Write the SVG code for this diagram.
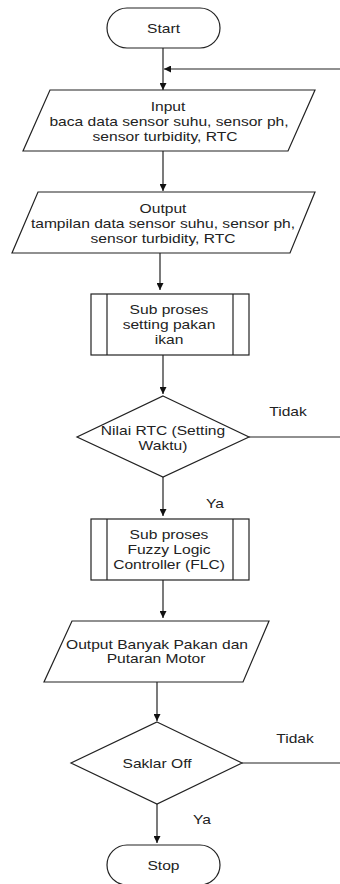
<svg xmlns="http://www.w3.org/2000/svg" width="340" height="884" viewBox="0 0 340 884">
<defs>
<style>
.s{fill:#fff;stroke:#222;stroke-width:1.2}
.c{fill:none;stroke:#222;stroke-width:1.2}
.t{font-family:"Liberation Sans",Arial,sans-serif;font-size:13px;fill:#222;text-anchor:middle}
</style>
<marker id="ah" viewBox="0 0 10 10" refX="10" refY="5" markerWidth="7" markerHeight="7" orient="auto" markerUnits="userSpaceOnUse">
<path d="M0,0 L10,5 L0,10 Z" fill="#111"/>
</marker>
</defs>
<rect width="340" height="884" fill="#fff"/>
<g id="connectors">
<line class="c" x1="163" y1="48" x2="163" y2="90" marker-end="url(#ah)"/>
<line class="c" x1="340" y1="69" x2="164" y2="69" marker-end="url(#ah)"/>
<line class="c" x1="163" y1="151" x2="163" y2="191" marker-end="url(#ah)"/>
<line class="c" x1="160" y1="253" x2="160" y2="290" marker-end="url(#ah)"/>
<line class="c" x1="163" y1="355" x2="163" y2="394" marker-end="url(#ah)"/>
<line class="c" x1="249" y1="437" x2="340" y2="437"/>
<line class="c" x1="163" y1="477" x2="163" y2="516" marker-end="url(#ah)"/>
<line class="c" x1="163" y1="580" x2="163" y2="618" marker-end="url(#ah)"/>
<line class="c" x1="157" y1="682" x2="157" y2="721" marker-end="url(#ah)"/>
<line class="c" x1="242" y1="763" x2="340" y2="763"/>
<line class="c" x1="157" y1="804" x2="157" y2="843" marker-end="url(#ah)"/>
<text class="t" transform="translate(288,415.5) scale(1.2,1)">Tidak</text>
<text class="t" transform="translate(215,507.5) scale(1.2,1)">Ya</text>
<text class="t" transform="translate(295,742.5) scale(1.2,1)">Tidak</text>
<text class="t" transform="translate(202,823.5) scale(1.2,1)">Ya</text>
</g>
<g id="start">
<rect class="s" x="107" y="8" width="113" height="40" rx="20" ry="20"/>
<text class="t" transform="translate(163.5,32.5) scale(1.2,1)">Start</text>
</g>
<g id="input">
<polygon class="s" points="50,90 315,90 288,151 23,151"/>
<text class="t" transform="translate(168,111) scale(1.2,1)">Input</text>
<text class="t" transform="translate(169,126) scale(1.2,1)">baca data sensor suhu, sensor ph,</text>
<text class="t" transform="translate(165,141) scale(1.2,1)">sensor turbidity, RTC</text>
</g>
<g id="output">
<polygon class="s" points="38,192 315,192 290,253 12,253"/>
<text class="t" transform="translate(163,212.5) scale(1.2,1)">Output</text>
<text class="t" transform="translate(163,227.5) scale(1.2,1)">tampilan data sensor suhu, sensor ph,</text>
<text class="t" transform="translate(163,242.5) scale(1.2,1)">sensor turbidity, RTC</text>
</g>
<g id="sub1">
<rect class="s" x="91" y="294" width="158" height="61"/>
<line class="c" x1="107" y1="294" x2="107" y2="355"/>
<line class="c" x1="233" y1="294" x2="233" y2="355"/>
<text class="t" transform="translate(169,313.5) scale(1.2,1)">Sub proses</text>
<text class="t" transform="translate(169,328.5) scale(1.2,1)">setting pakan</text>
<text class="t" transform="translate(169,343.5) scale(1.2,1)">ikan</text>
</g>
<g id="decision1">
<polygon class="s" points="163,396 249,437 163,477 77,437"/>
<text class="t" transform="translate(163,434.5) scale(1.2,1)">Nilai RTC (Setting</text>
<text class="t" transform="translate(163,449.5) scale(1.2,1)">Waktu)</text>
</g>
<g id="sub2">
<rect class="s" x="91" y="519" width="158" height="61"/>
<line class="c" x1="107" y1="519" x2="107" y2="580"/>
<line class="c" x1="233" y1="519" x2="233" y2="580"/>
<text class="t" transform="translate(169,538.5) scale(1.2,1)">Sub proses</text>
<text class="t" transform="translate(169,553.5) scale(1.2,1)">Fuzzy Logic</text>
<text class="t" transform="translate(169,568.5) scale(1.2,1)">Controller (FLC)</text>
</g>
<g id="output2">
<polygon class="s" points="72,621 269,621 243,682 44,682"/>
<text class="t" transform="translate(157,648.5) scale(1.2,1)">Output Banyak Pakan dan</text>
<text class="t" transform="translate(156,662.5) scale(1.2,1)">Putaran Motor</text>
</g>
<g id="decision2">
<polygon class="s" points="157,722 242,763 157,804 71,763"/>
<text class="t" transform="translate(157,767.5) scale(1.2,1)">Saklar Off</text>
</g>
<g id="stop">
<rect class="s" x="107" y="845" width="113" height="40" rx="20" ry="20"/>
<text class="t" transform="translate(163.5,869.5) scale(1.2,1)">Stop</text>
</g>
</svg>
